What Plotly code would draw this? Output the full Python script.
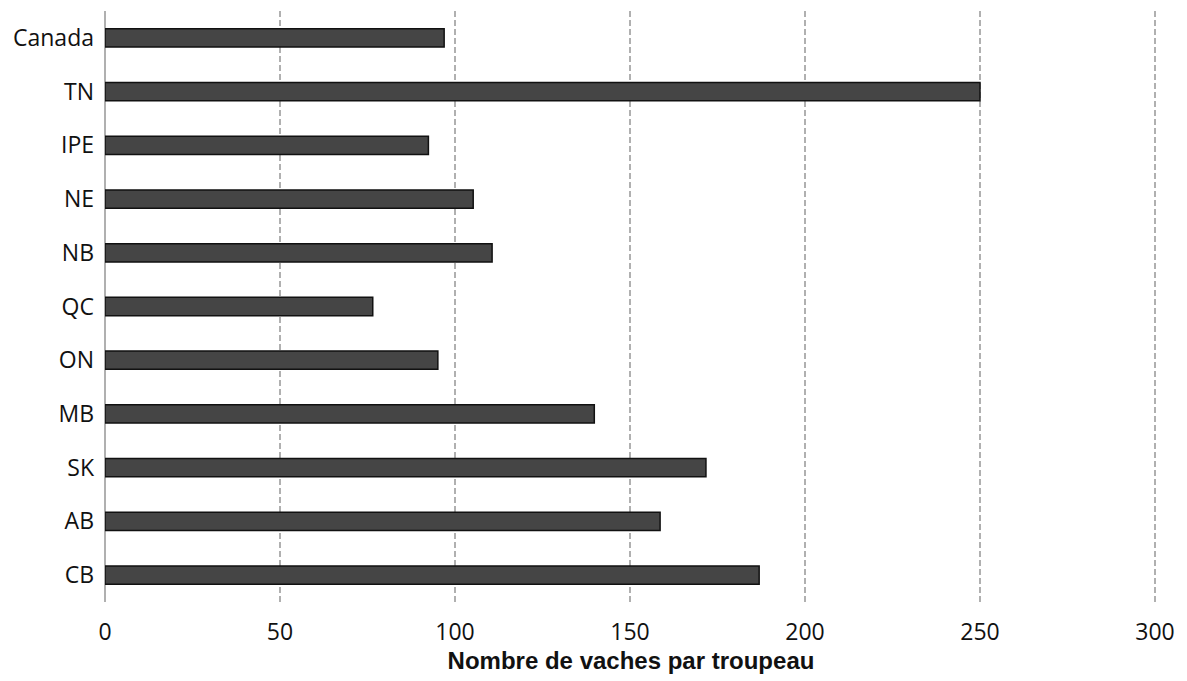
import plotly.graph_objects as go

# Provinces listed top to bottom, with the average herd size for each
provinces = ["Canada", "TN", "IPE", "NE", "NB", "QC", "ON", "MB", "SK", "AB", "CB"]
vaches_par_troupeau = [96.9, 250.0, 92.4, 105.2, 110.6, 76.5, 95.1, 139.8, 171.7, 158.6, 186.9]
x_ticks = [0, 50, 100, 150, 200, 250, 300]

fig = go.Figure(
    go.Bar(
        y=provinces,
        x=vaches_par_troupeau,
        orientation="h",
        marker=dict(color="#454545", line=dict(color="#111111", width=1.5)),
        width=0.34,
    )
)

fig.update_layout(
    width=1187,
    height=681,
    margin=dict(l=105, r=30, t=11, b=77),
    paper_bgcolor="white",
    plot_bgcolor="white",
    showlegend=False,
    xaxis=dict(
        range=[0, 300.57],
        tickvals=x_ticks,
        ticktext=[str(v) for v in x_ticks],
        showgrid=True,
        gridcolor="#b0b0b0",
        gridwidth=2,
        griddash="6px,3px",
        zeroline=True,
        zerolinecolor="#b0b0b0",
        zerolinewidth=2,
        showline=False,
        ticks="",
        ticklabelstandoff=14,
        tickfont=dict(family="Open Sans", size=23, color="#111111"),
        title=dict(
            text="<b>Nombre de vaches par troupeau</b>",
            font=dict(family="Liberation Sans", size=24, color="#111111"),
            standoff=6,
        ),
    ),
    yaxis=dict(
        categoryorder="array",
        categoryarray=provinces[::-1],
        showgrid=False,
        zeroline=False,
        showline=False,
        ticks="",
        ticklabelstandoff=10,
        tickfont=dict(family="Open Sans", size=23, color="#111111"),
    ),
)

fig.write_html("out.html")
